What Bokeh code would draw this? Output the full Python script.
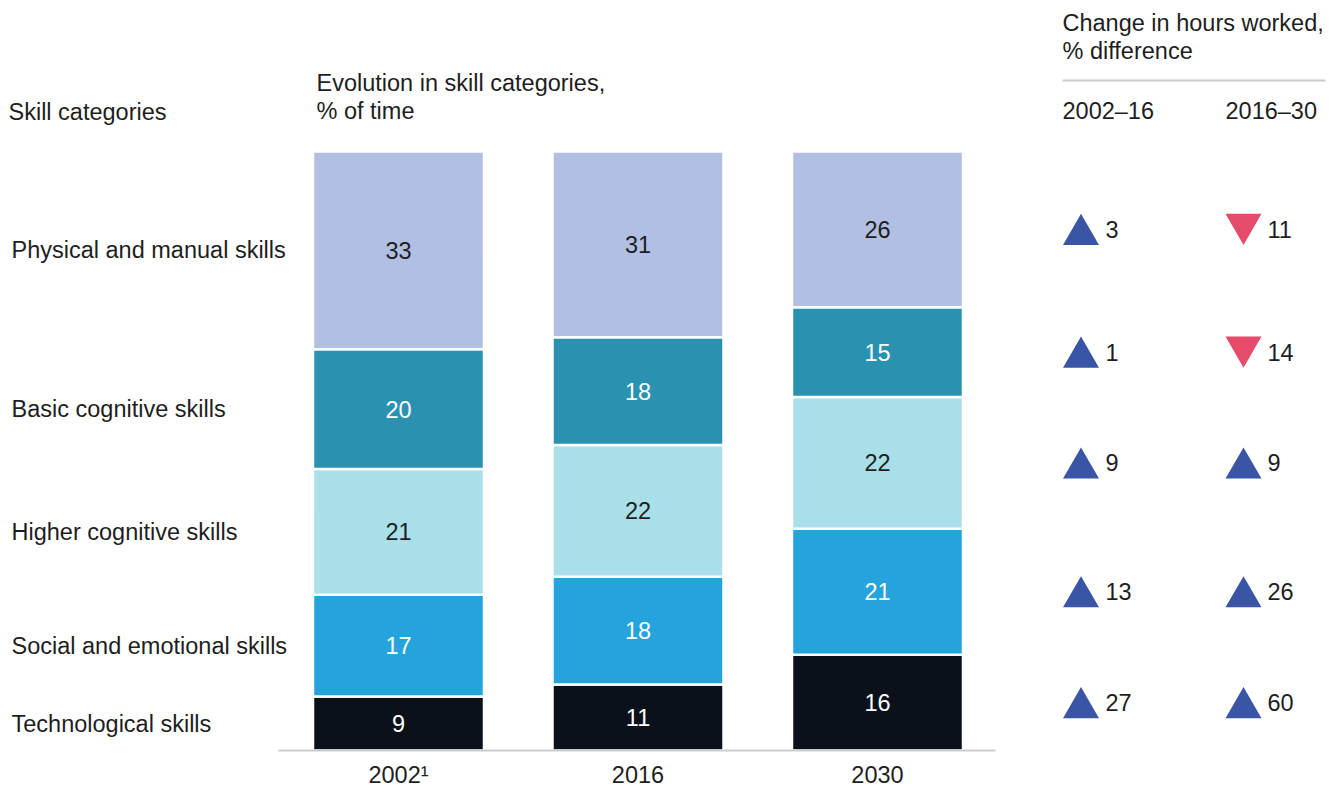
from bokeh.plotting import figure
from bokeh.models import Range1d, FixedTicker, ColumnDataSource
from bokeh.embed import file_html
from bokeh.resources import INLINE
from bokeh.core.properties import value

# ---------------- data ----------------
years = ["2002¹", "2016", "2030"]
skills = ["Physical and manual skills", "Basic cognitive skills",
          "Higher cognitive skills", "Social and emotional skills",
          "Technological skills"]
physical = [33, 31, 26]
basic = [20, 18, 15]
higher = [21, 22, 22]
social = [17, 18, 21]
tech = [9, 11, 16]
change_2002_16 = [3, 1, 9, 13, 27]
change_2016_30 = [-11, -14, 9, 26, 60]
period_labels = ["2002–16", "2016–30"]

# ---------------- styles ----------------
seg_colors = ["#B1BFE2", "#2A92B0", "#A8DFE8", "#25A3DC", "#0A111B"]
seg_text_colors = ["#1e1e1e", "white", "#1e1e1e", "white", "white"]
UP_COLOR = "#3A55A5"
DOWN_COLOR = "#E54B6A"
TXT = "#1e1e1e"
FONT = "Liberation Sans"
FS = "23.5px"

# ---------------- geometry (picture pixel -> data) ----------------
M = 0
FW, FH = 1327, 750
BASE_PY, TOP_PY = 750, 151
SY = (BASE_PY - TOP_PY) / 100.0
SX = 239.5
XSTART = -(398 - M) / SX


def X(px):
    return XSTART + (px - M) / SX


def Y(py):
    return (BASE_PY - py) / SY


p = figure(frame_width=FW, frame_height=FH,
           x_range=Range1d(XSTART, XSTART + FW / SX),
           y_range=Range1d(0, FH / SY),
           output_backend="svg", toolbar_location=None,
           min_border=0, y_axis_location=None)
p.outline_line_color = None
p.xgrid.visible = False
p.ygrid.visible = False
p.background_fill_color = "white"

series = [physical, basic, higher, social, tech]  # top -> bottom
names = ["physical", "basic", "higher", "social", "tech"]
src = ColumnDataSource(dict(x=list(range(len(years))),
                            **{n: s for n, s in zip(names, series)}))

p.vbar_stack(stackers=names[::-1], x="x", width=171 / SX, source=src,
             color=seg_colors[::-1], line_color="white", line_width=2.5)

# segment centers
centers = []  # centers[i][k] for year i, skill k (top->bottom order)
for i in range(len(years)):
    cum = 0
    c = {}
    for k in range(len(names) - 1, -1, -1):
        v = series[k][i]
        c[k] = cum + v / 2.0
        cum += v
    centers.append([c[k] for k in range(len(names))])

lx, ly, lt, lc = [], [], [], []
for i in range(len(years)):
    for k in range(len(names)):
        lx.append(i)
        ly.append(centers[i][k])
        lt.append(str(series[k][i]))
        lc.append(seg_text_colors[k])
p.text(x=lx, y=ly, text=lt, text_color=lc, text_align="center",
       text_baseline="middle", text_font=value(FONT), text_font_size=FS)

# left skill labels aligned with 2002 segments
p.text(x=[X(11)] * len(skills), y=centers[0], text=skills, text_color=TXT,
       text_align="left", text_baseline="middle", text_font=value(FONT),
       text_font_size=FS)

# headers
hdr_x = [X(8), X(316), X(316), X(1062), X(1062), X(1062), X(1225)]
hdr_y = [Y(111), Y(82), Y(110), Y(22), Y(50), Y(110), Y(110)]
hdr_t = ["Skill categories", "Evolution in skill categories,", "% of time",
         "Change in hours worked,", "% difference",
         period_labels[0], period_labels[1]]
p.text(x=hdr_x, y=hdr_y, text=hdr_t, text_color=TXT, text_align="left",
       text_baseline="middle", text_font=value(FONT), text_font_size=FS)
p.segment(x0=[X(1062)], x1=[X(1325)], y0=[Y(80)], y1=[Y(80)],
          line_color="#cccccc", line_width=2)

# change triangles aligned with 2030 segments
tri_px = [1080.5, 1243]
num_px = [1105, 1267]
TRI = 36
shift = (TRI * 0.866 / 6) / SY
tx, ty, tm, tcol, nx, ny, nt = [], [], [], [], [], [], []
for j, ch in enumerate([change_2002_16, change_2016_30]):
    for k, v in enumerate(ch):
        c = centers[2][k]
        tx.append(X(tri_px[j]))
        if v >= 0:
            tm.append("triangle")
            ty.append(c - shift)
            tcol.append(UP_COLOR)
        else:
            tm.append("inverted_triangle")
            ty.append(c + shift)
            tcol.append(DOWN_COLOR)
        nx.append(X(num_px[j]))
        ny.append(c)
        nt.append(str(abs(v)))
p.scatter(x=tx, y=ty, marker=tm, size=TRI, fill_color=tcol, line_color=None)
p.text(x=nx, y=ny, text=nt, text_color=TXT, text_align="left",
       text_baseline="middle", text_font=value(FONT), text_font_size=FS)

# x axis
ax = p.xaxis[0]
ax.ticker = FixedTicker(ticks=list(range(len(years))))
ax.major_label_overrides = {i: y for i, y in enumerate(years)}
ax.bounds = (X(278), X(995))
ax.axis_line_color = "#cccccc"
ax.axis_line_width = 2
ax.major_tick_line_color = None
ax.minor_tick_line_color = None
ax.major_tick_in = 0
ax.major_tick_out = 0
ax.major_label_standoff = 11
ax.major_label_text_font = FONT
ax.major_label_text_font_size = FS
ax.major_label_text_color = TXT

open("out.html", "w").write(file_html(p, INLINE))
